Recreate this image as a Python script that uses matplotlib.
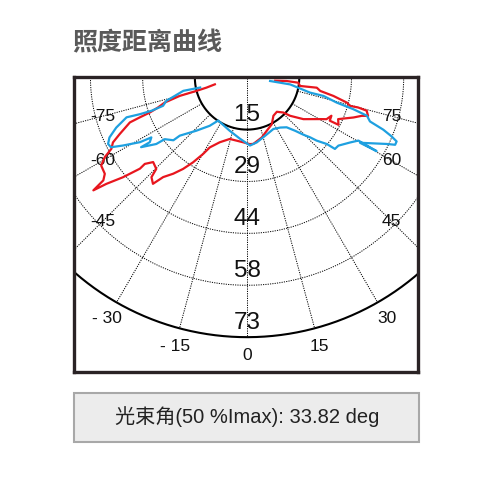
import numpy as np
import matplotlib.pyplot as plt
from matplotlib.patches import Rectangle

# curve data: angle from nadir (deg), value
red_theta = [-78.3, -76.2, -75.3, -74.8, -73.1, -71.4, -70.2, -69.6, -69.0, -66.0,
             -64.1, -62.2, -60.7, -58.8, -55.8, -54.3, -53.6, -52.8, -51.1, -49.5,
             -49.7, -47.9, -44.7, -43.7, -41.4, -40.0, -37.4, -34.9, -32.4, -29.8,
             -28.0, -22.8, -15.7, -3.5, 2.3, 5.4, 13.8, 20.3, 27.9, 34.5,
             41.0, 46.0, 48.3, 53.5, 60.3, 62.3, 65.6, 62.4, 62.6, 65.4,
             69.4, 71.5, 72.4, 74.5, 74.9, 74.6, 75.9, 78.0, 79.7, 81.8,
             81.1, 84.4, 85.2, 83.9]
red_r = [9.2, 11.7, 14.7, 19.5, 24.1, 26.3, 28.9, 32.0, 35.1, 39.0,
         41.7, 42.9, 45.6, 47.7, 48.1, 49.5, 53.4, 49.4, 44.6, 39.4,
         37.5, 35.4, 36.1, 38.7, 39.8, 36.5, 34.0, 31.3, 28.2, 24.7,
         22.2, 19.7, 17.9, 18.2, 18.7, 18.7, 17.3, 15.9, 14.8, 13.0,
         12.7, 14.1, 16.1, 19.6, 23.5, 25.1, 25.9, 26.1, 28.8, 28.0,
         31.8, 33.8, 35.5, 34.7, 32.2, 29.9, 28.8, 24.7, 20.8, 19.7,
         15.0, 14.4, 11.1, 7.9]

blue_theta = [-78.1, -78.3, -73.9, -71.4, -70.8, -71.1, -71.7, -69.0, -66.4, -64.4,
              -62.8, -61.2, -58.8, -57.9, -56.3, -56.6, -53.7, -53.1, -49.5, -49.1,
              -43.6, -37.7, -33.8, -18.0, -6.5, 2.5, 8.5, 17.2, 27.0, 33.4,
              38.4, 42.0, 44.5, 46.4, 47.7, 50.1, 50.8, 53.2, 57.7, 60.4,
              60.3, 59.9, 64.5, 65.5, 66.8, 67.8, 69.0, 70.3, 72.3, 73.4,
              74.4, 76.5, 76.6, 81.1, 81.8]
blue_r = [13.4, 18.2, 23.5, 24.8, 28.3, 31.7, 35.5, 39.2, 42.0, 43.1,
          42.8, 39.6, 35.0, 31.6, 32.7, 35.5, 31.5, 28.8, 27.1, 24.9,
          20.6, 17.1, 14.5, 15.7, 17.3, 19.1, 18.4, 17.1, 16.2, 16.8,
          17.8, 20.1, 22.5, 24.3, 26.3, 29.1, 31.7, 31.9, 34.1, 35.8,
          41.7, 36.5, 43.3, 45.5, 45.5, 43.6, 40.8, 36.5, 35.2, 31.0,
          26.0, 22.0, 18.1, 12.2, 6.5]

ring_values = [14.6, 29.2, 43.8, 58.4, 73.0]
ring_labels = ["15", "29", "44", "58", "73"]
spoke_angles = [-75, -60, -45, -30, -15, 0, 15, 30, 45, 60, 75]

title = "照度距离曲线"
beam_text = "光束角(50 %Imax): 33.82 deg"


def to_xy(theta_deg, r):
    t = np.radians(np.asarray(theta_deg, dtype=float))
    r = np.asarray(r, dtype=float)
    return r * np.sin(t), -r * np.cos(t)


fig = plt.figure(figsize=(5, 4.8), dpi=100)
ax = fig.add_axes([74 / 500, 1 - 372 / 480, 344 / 500, 295 / 480])
ax.set_xlim(-48.4, 47.8)
ax.set_ylim(-82.8, 0.2)
ax.set_xticks([])
ax.set_yticks([])
for s in ax.spines.values():
    s.set_linewidth(2.4)
    s.set_color("#2a2325")

# rings
phi = np.linspace(-90, 90, 400)
for i, rv in enumerate(ring_values):
    x, y = to_xy(phi, np.full_like(phi, rv))
    if i == 0 or i == len(ring_values) - 1:
        ax.plot(x, y, color="black", lw=1.5, zorder=2)
    else:
        ax.plot(x, y, color="black", lw=0.7, ls=(0, (1.2, 1.2)), zorder=2)
    ax.text(0, -rv + 1.0, ring_labels[i], ha="center", va="bottom",
            fontsize=17.5, family="Liberation Sans", color="#111111", zorder=3)

# spokes
for a in spoke_angles:
    r0 = 0 if a == 0 else ring_values[0]
    x, y = to_xy([a, a], [r0, ring_values[-1]])
    ax.plot(x, y, color="black", lw=0.7, ls=(0, (1.2, 1.2)), zorder=2)
    if abs(a) <= 30:
        lx, ly = to_xy(a, 78.2)
        lab = str(a) if a >= 0 else "- " + str(-a)
    else:
        lx = np.sign(a) * 40.4
        ly = -abs(lx) / np.tan(np.radians(abs(a)))
        lab = str(a)
    ax.text(lx, ly, lab, ha="center", va="center", fontsize=12.5,
            family="Liberation Sans", color="#111111", zorder=3, clip_on=False)

# curves
x, y = to_xy(red_theta, red_r)
ax.plot(x, y, color="#e8161e", lw=1.6, zorder=4)
x, y = to_xy(blue_theta, blue_r)
ax.plot(x, y, color="#1ea0e0", lw=1.6, zorder=5)

fig.text(72 / 500, 1 - 43 / 480, title, ha="left", va="center", fontsize=18,
         fontweight="bold", color="#5a5a5a", family=["Noto Sans CJK SC", "DejaVu Sans"])

# beam angle box
fig.patches.append(Rectangle((74 / 500, 1 - 442 / 480), 345 / 500, 49 / 480,
                             transform=fig.transFigure, facecolor="#ececec",
                             edgecolor="#a8a8a8", lw=1.5))
fig.text(247 / 500, 1 - 417 / 480, beam_text, ha="center", va="center",
         fontsize=14.5, color="#222222", family=["Liberation Sans", "Noto Sans CJK SC"])

fig.savefig("out.png", dpi=100)
